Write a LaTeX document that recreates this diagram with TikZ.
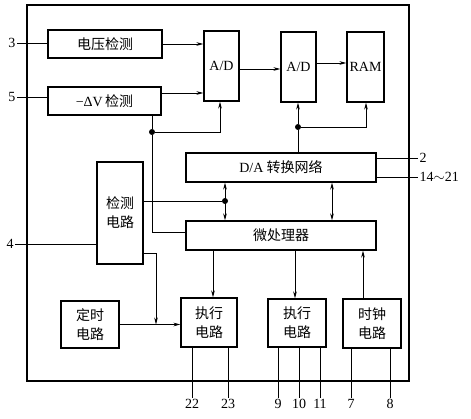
\documentclass[tikz,border=0pt]{standalone}
\usepackage{fontspec}
\setmainfont{Liberation Serif}
\newfontfamily\cjk{Noto Sans CJK SC}
\usetikzlibrary{arrows.meta}
\begin{document}
\begin{tikzpicture}[x=1pt,y=-1pt,
  box/.style={draw, line width=1.2pt, inner sep=0pt, align=center, font=\fontsize{14}{19}\selectfont},
  cn/.style={box, font=\cjk\fontsize{14}{19}\selectfont},
  wire/.style={line width=0.8pt},
  arr/.style={wire, -{Stealth[length=7pt,width=3.6pt]}},
  darr/.style={wire, {Stealth[length=7pt,width=3.6pt]}-{Stealth[length=7pt,width=3.6pt]}},
  dot/.style={circle, fill, inner sep=0pt, minimum size=6pt},
  pin/.style={inner sep=1.5pt, font=\fontsize{14}{14}\selectfont}]
\useasboundingbox (0,0) rectangle (471,419);
% outer frame
\node[draw, line width=1.2pt, minimum width=382, minimum height=376, inner sep=0pt] (outer) at (218,193) {};
% blocks
\node[cn, minimum width=114, minimum height=28] (vd) at (105,44) {电压检测};
\node[cn, minimum width=113, minimum height=28] (dv) at (104.5,101) {{\normalfont −ΔV}\,检测};
\node[box, minimum width=35, minimum height=70] (ad1) at (221.5,66) {A/D};
\node[box, minimum width=35, minimum height=70] (ad2) at (298.5,67) {A/D};
\node[box, minimum width=37, minimum height=70] (ram) at (365.5,67) {RAM};
\node[cn, minimum width=190, minimum height=29] (da) at (281,167.5) {{\normalfont D/A} 转换网络};
\node[cn, minimum width=190, minimum height=29] (cpu) at (281,235.5) {微处理器};
\node[cn, minimum width=46, minimum height=102] (det) at (120,213) {检测\\电路};
\node[cn, minimum width=58, minimum height=47] (tim) at (90,324.5) {定时\\电路};
\node[cn, minimum width=56, minimum height=49] (ex1) at (209,322.5) {执行\\电路};
\node[cn, minimum width=58, minimum height=48] (ex2) at (297,323) {执行\\电路};
\node[cn, minimum width=58, minimum height=49] (clk) at (372,323.5) {时钟\\电路};
% junction dots
\node[dot] (j1) at (152,132) {};
\node[dot] (j2) at (298,127) {};
\node[dot] (j3) at (225,201) {};
\coordinate (k) at (156,253);
% input labels
\node[pin] (l3) at (12,43) {3};
\node[pin] (l5) at (12,97) {5};
\node[pin] (l4) at (10,244) {4};
\draw[wire] (l3) -- (vd.west |- l3);
\draw[wire] (l5) -- (dv.west |- l5);
\draw[wire] (l4) -- (det.west |- l4);
% top row
\draw[arr] (vd.east) -- (ad1.west |- vd.east);
\draw[arr] (dv.east |- 0,93) -- (ad1.west |- 0,93);
\draw[arr] (ad1.east |- 0,69) -- (ad2.west |- 0,69);
\draw[arr] (ad2.east |- 0,63) -- (ram.west |- 0,63);
\draw[wire] (dv.south -| j1) -- (j1);
\draw[arr] (j1) -| (ad1.south -| 220,0);
\draw[wire] (j1) |- (cpu.west |- 0,232);
\draw[wire] (da.north -| j2) -- (j2);
\draw[arr] (j2) -- (ad2.south -| j2);
\draw[arr] (j2) -| (ram.south -| 366,0);
% middle
\draw[darr] (da.south -| 332,0) -- (cpu.north -| 332,0);
\draw[darr] (da.south -| j3) -- (cpu.north -| j3);
\draw[wire] (det.east |- j3) -- (j3);
% right outputs
\node[pin, anchor=west] (p2) at (418,158) {2};
\node[pin, anchor=west] (p14) at (418,177) {14$\sim$21};
\draw[wire] (da.east |- p2) -- (p2.west);
\draw[wire] (da.east |- p14) -- (p14.west);
% lower
\draw[arr] (det.east |- k) -| (k |- tim.east);
\draw[arr] (tim.east) -- (ex1.west |- tim.east);
\draw[arr] (cpu.south -| 213,0) -- (ex1.north -| 213,0);
\draw[arr] (cpu.south -| 295,0) -- (ex2.north -| 295,0);
\draw[arr] (clk.north -| 363,0) -- (cpu.south -| 363,0);
% pins
\node[pin] (p22) at (192,404) {22};
\node[pin] (p23) at (228,404) {23};
\node[pin] (p9) at (278,404) {9};
\node[pin] (p10) at (299,404) {10};
\node[pin] (p11) at (320,404) {11};
\node[pin] (p7) at (351,404) {7};
\node[pin] (p8) at (390,404) {8};
\foreach \b/\p in {ex1/p22, ex1/p23, ex2/p9, ex2/p10, ex2/p11, clk/p7, clk/p8}
  \draw[wire] (\b.south -| \p) -- (\p);
\end{tikzpicture}
\end{document}
